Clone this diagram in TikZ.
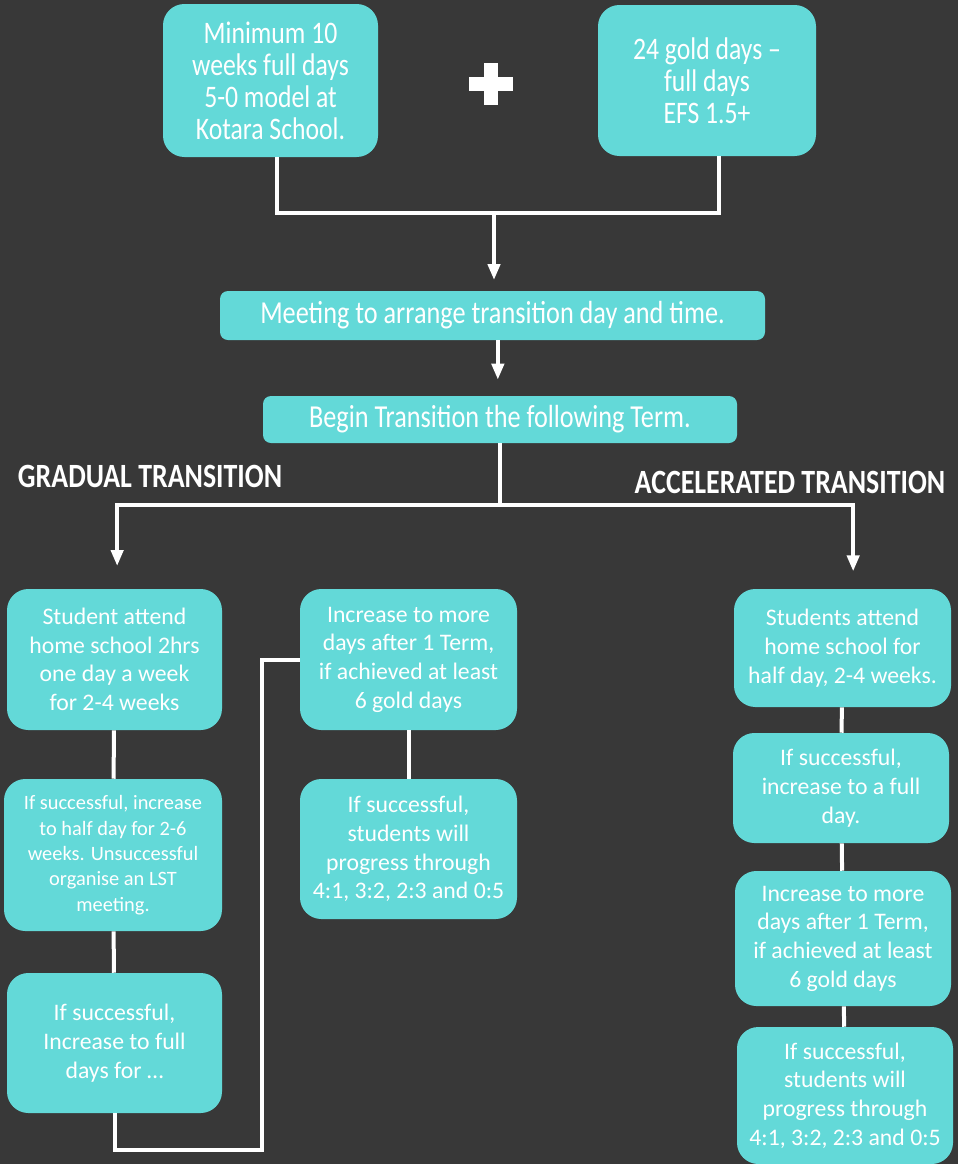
\documentclass[tikz,border=0pt]{standalone}
\usepackage{fontspec}
\setmainfont{Carlito}
\newfontfamily\narrowfont{Carlito}[FakeStretch=0.82]
\usepackage{xcolor}
\usepackage{tikz}
\usetikzlibrary{arrows.meta, positioning}
\definecolor{bgdark}{RGB}{56,56,56}
\definecolor{boxcyan}{RGB}{99,217,216}

\begin{document}
\begin{tikzpicture}[x=0.75pt, y=-0.75pt,
  box/.style={rectangle, rounded corners=16pt, fill=boxcyan, text=white,
    align=center, inner sep=0pt, font=\fontsize{17.8}{21.5}\selectfont},
  topbox/.style={box, font=\narrowfont\fontsize{23.5}{24}\selectfont},
  bar/.style={box, rounded corners=6pt, font=\narrowfont\fontsize{24}{26}\selectfont},
  head/.style={text=white, inner sep=0pt, font=\narrowfont\bfseries\fontsize{25.5}{28}\selectfont},
  link/.style={draw=white, line width=3pt},
  arr/.style={link, -{Triangle[width=9pt,length=12pt]}}]
  \fill[bgdark] (0,0) rectangle (958,1164);
  \useasboundingbox (0,0) rectangle (958,1164);

  \node[topbox, minimum width=161.25pt, minimum height=114.75pt] (min) at (270.5,80.5)
    {Minimum 10\\weeks full days\\5-0 model at\\Kotara School.};
  \node[topbox, minimum width=163.5pt, minimum height=113.25pt] (gold) at (707,80.5)
    {24 gold days \textendash\\full days\\EFS 1.5+};
  \fill[white] (469,77) rectangle (513,91);
  \fill[white] (484,63) rectangle (498,105);

  \node[bar, minimum width=408.75pt, minimum height=36.75pt] (meet) at (492.5,315.5)
    {Meeting to arrange transition day and time.};
  \node[bar, minimum width=355.5pt, minimum height=35.25pt] (begin) at (500,419.5)
    {Begin Transition the following Term.};

  \node[head] (grad) at (150,476) {GRADUAL TRANSITION};
  \node[head] (accel) at (790,482) {ACCELERATED TRANSITION};

  \node[box, minimum width=161.25pt, minimum height=105.75pt] (attend) at (114.5,659.5)
    {Student attend\\home school 2hrs\\one day a week\\for 2-4 weeks};
  \node[box, minimum width=163.5pt, minimum height=114pt, font=\fontsize{15.3}{19}\selectfont] (half) at (113,855)
    {If successful, increase\\to half day for 2-6\\weeks. Unsuccessful\\organise an LST\\meeting.};
  \node[box, minimum width=161.25pt, minimum height=105pt] (full) at (114.5,1043)
    {If successful,\\Increase to full\\days for \dots};
  \node[box, minimum width=162.75pt, minimum height=105.75pt] (more) at (408.5,659.5)
    {Increase to more\\days after 1 Term,\\if achieved at least\\6 gold days};
  \node[box, minimum width=162.75pt, minimum height=105pt] (prog) at (408.5,849)
    {If successful,\\students will\\progress through\\4:1, 3:2, 2:3 and 0:5};

  \node[box, minimum width=162.75pt, minimum height=88.5pt] (ahalf) at (842.5,648)
    {Students attend\\home school for\\half day, 2-4 weeks.};
  \node[box, minimum width=162pt, minimum height=82.5pt] (aday) at (841,788)
    {If successful,\\increase to a full\\day.};
  \node[box, minimum width=162pt, minimum height=101.25pt] (amore) at (843,938.5)
    {Increase to more\\days after 1 Term,\\if achieved at least\\6 gold days};
  \node[box, minimum width=162pt, minimum height=102.75pt] (aprog) at (845,1095.5)
    {If successful,\\students will\\progress through\\4:1, 3:2, 2:3 and 0:5};

  \coordinate (join) at (494,213);
  \coordinate (split) at (500,505);
  \coordinate (low) at (262,1150);
  \draw[link] ([xshift=5pt]min.south) |- (join) -| ([xshift=9pt]gold.south);
  \draw[arr, shorten >=8pt] (join) -- (join |- meet.north);
  \draw[arr, shorten >=12pt] ([xshift=4pt]meet.south) -- ([xshift=4pt]meet.south |- begin.north);
  \draw[link] (begin.south) -- (split);
  \draw[arr, shorten >=17pt] (split) -| ([xshift=2pt]attend.north);
  \draw[arr, shorten >=13pt] (split) -| ([xshift=8pt]ahalf.north);
  \foreach \a/\b in {attend/half,half/full,more/prog,ahalf/aday,aday/amore,amore/aprog}
    \draw[link] (\a) -- (\b);
  \draw[link] (full.south) |- (low) |- (more.west);
\end{tikzpicture}
\end{document}
